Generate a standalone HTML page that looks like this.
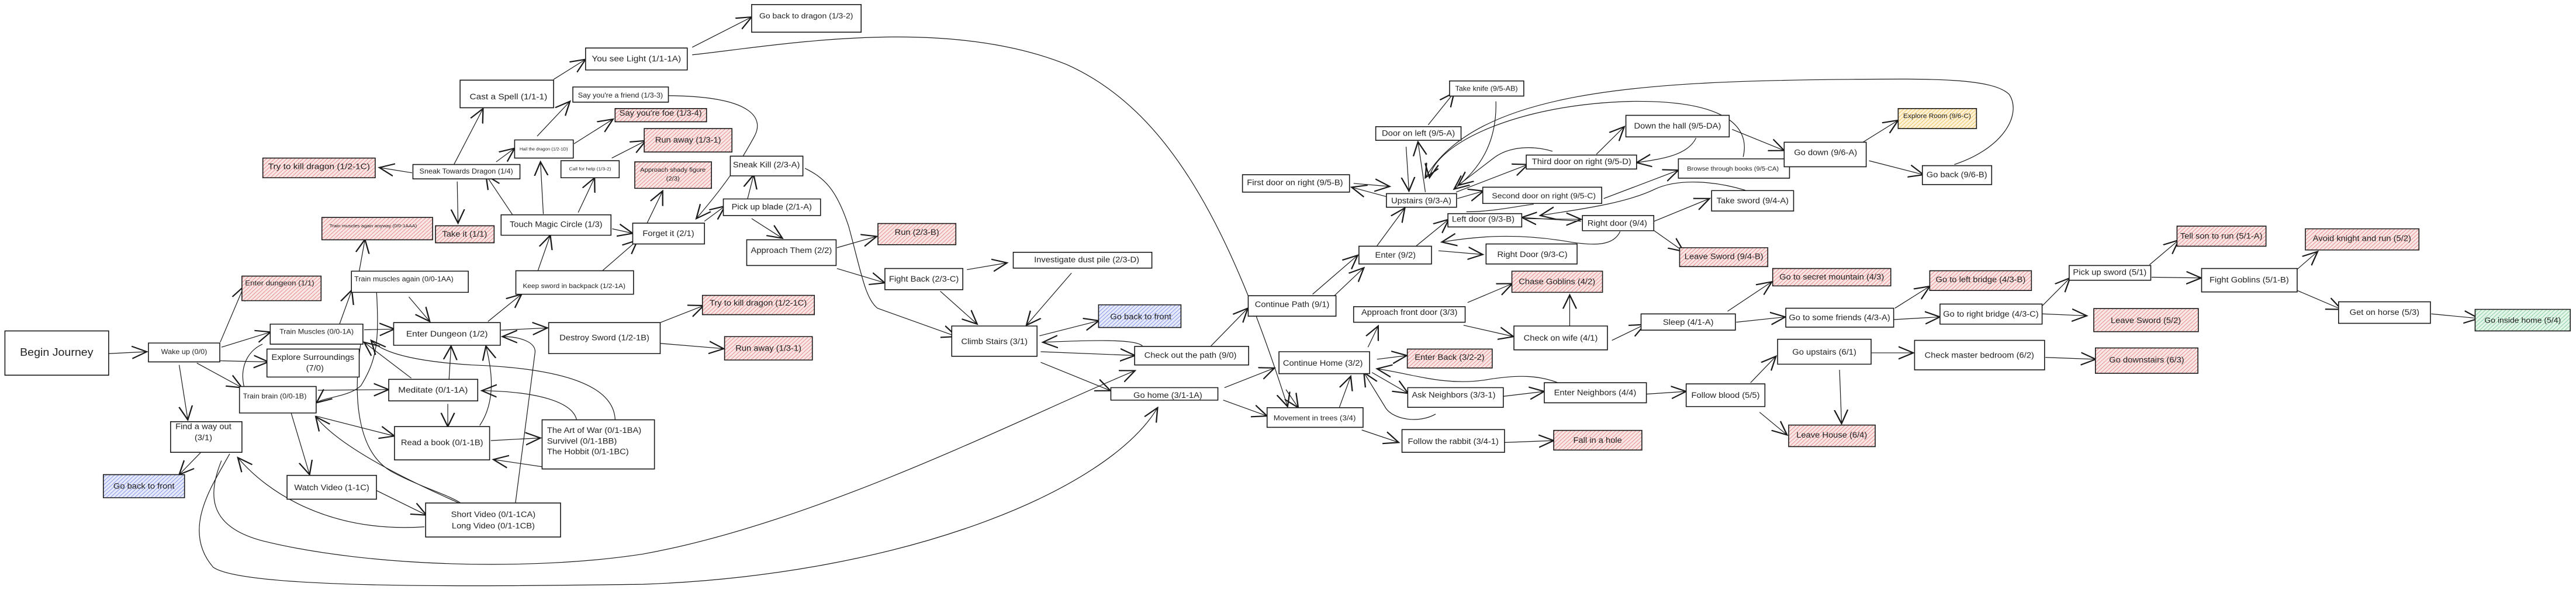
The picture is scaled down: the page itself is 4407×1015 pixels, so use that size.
<!DOCTYPE html>
<html><head><meta charset="utf-8"><style>
html,body{margin:0;padding:0;background:#fff;}
svg{display:block;}
.b{fill:#fff;stroke:#1a1a1a;stroke-width:1.6;vector-effect:non-scaling-stroke;}
.r{fill:url(#hr);stroke:#1a1a1a;stroke-width:1.6;vector-effect:non-scaling-stroke;}
.u{fill:url(#hb);stroke:#1a1a1a;stroke-width:1.6;vector-effect:non-scaling-stroke;}
.g{fill:url(#hg);stroke:#1a1a1a;stroke-width:1.6;vector-effect:non-scaling-stroke;}
.o{fill:url(#ho);stroke:#1a1a1a;stroke-width:1.6;vector-effect:non-scaling-stroke;}
path.e{fill:none;stroke:#1a1a1a;stroke-width:1.2;vector-effect:non-scaling-stroke;marker-end:url(#a);}
path.n{fill:none;stroke:#1a1a1a;stroke-width:1.2;vector-effect:non-scaling-stroke;}
text{font-family:"Liberation Sans",sans-serif;fill:#222;font-size:21px;text-anchor:middle;dominant-baseline:central;}
</style></head><body>
<svg width="4407" height="1015" viewBox="0 0 6282 1568" preserveAspectRatio="none" xmlns="http://www.w3.org/2000/svg">
<defs>
<pattern id="hr" width="7" height="7" patternUnits="userSpaceOnUse" patternTransform="rotate(45)"><rect width="7" height="7" fill="#fbe6e6"/><line x1="0" y1="0" x2="0" y2="7" stroke="#e06666" stroke-width="2"/></pattern>
<pattern id="hb" width="7" height="7" patternUnits="userSpaceOnUse" patternTransform="rotate(45)"><rect width="7" height="7" fill="#e7eafc"/><line x1="0" y1="0" x2="0" y2="7" stroke="#5a70e0" stroke-width="2"/></pattern>
<pattern id="hg" width="7" height="7" patternUnits="userSpaceOnUse" patternTransform="rotate(45)"><rect width="7" height="7" fill="#e4f6ea"/><line x1="0" y1="0" x2="0" y2="7" stroke="#5cbf7c" stroke-width="2"/></pattern>
<pattern id="ho" width="7" height="7" patternUnits="userSpaceOnUse" patternTransform="rotate(45)"><rect width="7" height="7" fill="#fdf1d6"/><line x1="0" y1="0" x2="0" y2="7" stroke="#f0b030" stroke-width="2"/></pattern>
<marker id="a" markerUnits="userSpaceOnUse" markerWidth="40" markerHeight="40" refX="20" refY="10" viewBox="0 0 22 20" orient="auto"><path d="M0,1 L20,10 L0,19" fill="none" stroke="#1a1a1a" stroke-width="1.8"/></marker>
</defs>

<!-- edges -->
<path class="e" d="M265,935 L358,930"/>
<path class="e" d="M537,905 L595,757"/>
<path class="e" d="M540,918 L660,878"/>
<path class="e" d="M536,954 L655,957"/>
<path class="e" d="M480,960 L590,1025"/>
<path class="e" d="M437,965 L458,1110"/>
<path class="e" d="M490,1196 L437,1255"/>
<path class="e" d="M828,857 L858,767"/>
<path class="e" d="M876,717 L890,633"/>
<path class="e" d="M888,872 L962,870"/>
<path class="e" d="M997,785 L1048,850"/>
<path class="e" d="M775,1032 L948,1030"/>
<path class="e" d="M770,1100 L962,1153"/>
<path class="e" d="M710,1092 L755,1255"/>
<path class="e" d="M918,1297 L1040,1362"/>
<path class="e" d="M1095,1003 L1100,915"/>
<path class="e" d="M1092,1068 L1092,1128"/>
<path class="e" d="M1003,1000 L888,905"/>
<path class="e" d="M1197,1165 L1318,1158"/>
<path class="e" d="M1407,1118 C1405,1060 1300,1035 1175,1033"/>
<path class="e" d="M1340,1237 L1203,1215"/>
<path class="e" d="M1170,1125 C1210,1060 1200,980 1185,915"/>
<path class="e" d="M1500,1120 C1505,1030 1400,975 1150,965 C1000,955 930,930 905,900"/>
<path class="e" d="M1257,1330 L1305,930 C1305,905 1270,890 1225,890"/>
<path class="e" d="M1130,1335 C950,1250 820,1170 770,1102"/>
<path class="e" d="M918,765 C925,900 920,950 880,1020 C850,1050 790,1050 772,1065"/>
<path class="n" d="M880,905 C860,1050 870,1200 960,1250 C1030,1290 1100,1310 1130,1335"/>
<path class="e" d="M1035,1393 C800,1410 650,1300 580,1210"/>
<path class="n" d="M640,910 C600,930 580,980 600,1040"/>
<path class="e" d="M540,1218 C510,1300 500,1390 640,1430 C900,1500 1300,1510 1568,1465 C2000,1380 2500,1100 2768,980"/>
<path class="e" d="M560,1200 C520,1280 440,1400 520,1500 C600,1560 1200,1550 1568,1545 C2200,1520 2700,1300 2823,1078"/>
<path class="e" d="M1005,457 L925,443"/>
<path class="e" d="M1107,435 L1178,287"/>
<path class="e" d="M1115,480 L1117,590"/>
<path class="e" d="M1210,428 L1255,392"/>
<path class="e" d="M1250,568 L1185,463"/>
<path class="e" d="M1325,566 L1318,428"/>
<path class="e" d="M1410,562 L1450,470"/>
<path class="e" d="M1493,605 L1543,617"/>
<path class="e" d="M1312,715 L1342,622"/>
<path class="e" d="M1470,715 L1555,635"/>
<path class="e" d="M1190,850 L1272,778"/>
<path class="e" d="M1222,873 L1335,867"/>
<path class="e" d="M1350,210 L1428,157"/>
<path class="e" d="M1310,360 L1390,268"/>
<path class="e" d="M1400,380 L1495,315"/>
<path class="e" d="M1492,418 L1575,372"/>
<path class="e" d="M1578,590 L1616,505"/>
<path class="e" d="M1630,253 C1850,255 1860,320 1840,360 C1800,440 1760,500 1698,578"/>
<path class="e" d="M1718,585 L1768,545"/>
<path class="e" d="M1823,526 L1838,462"/>
<path class="e" d="M1833,578 L1908,630"/>
<path class="e" d="M1963,445 C2010,470 2040,500 2070,600 C2100,720 2110,790 2140,815 L2333,890"/>
<path class="e" d="M2041,655 L2138,625"/>
<path class="e" d="M2041,710 L2158,748"/>
<path class="e" d="M2358,713 L2456,695"/>
<path class="e" d="M2293,770 L2383,857"/>
<path class="e" d="M2613,722 L2503,860"/>
<path class="e" d="M1610,853 L1716,808"/>
<path class="e" d="M1610,908 L1765,922"/>
<path class="e" d="M2535,888 L2680,848"/>
<path class="e" d="M2786,915 C2770,895 2650,900 2543,905"/>
<path class="e" d="M2538,930 L2768,940"/>
<path class="e" d="M2538,958 L2708,1033"/>
<path class="e" d="M1688,125 L1833,45"/>
<path class="e" d="M1688,145 C1900,120 2300,40 2600,170 C2850,290 3000,600 3140,1075"/>
<path class="e" d="M2953,915 L3043,815"/>
<path class="e" d="M2986,1025 L3108,973"/>
<path class="e" d="M2983,1058 L3090,1100"/>
<path class="e" d="M3201,778 L3311,675"/>
<path class="e" d="M3251,785 L3326,708"/>
<path class="e" d="M3336,918 L3361,862"/>
<path class="e" d="M3358,950 L3431,940"/>
<path class="e" d="M3346,985 L3434,1040"/>
<path class="e" d="M3266,1078 L3294,995"/>
<path class="e" d="M3136,1030 L3166,1078"/>
<path class="e" d="M3501,1095 C3460,1120 3400,1110 3380,1080 L3326,985"/>
<path class="e" d="M3816,1020 C3760,990 3700,990 3620,1005 C3520,1020 3450,990 3358,975"/>
<path class="e" d="M3666,1048 L3766,1035"/>
<path class="e" d="M3321,1137 L3411,1170"/>
<path class="e" d="M3669,1170 L3789,1165"/>
<path class="e" d="M3579,800 L3688,750"/>
<path class="e" d="M3569,860 L3691,890"/>
<path class="e" d="M3828,862 L3828,780"/>
<path class="e" d="M3931,900 L4011,858"/>
<path class="e" d="M4213,823 L4321,745"/>
<path class="e" d="M4234,852 L4354,838"/>
<path class="e" d="M4016,1042 L4112,1035"/>
<path class="e" d="M4269,1012 L4331,942"/>
<path class="e" d="M4291,1090 L4358,1150"/>
<path class="e" d="M4486,978 L4491,1120"/>
<path class="e" d="M4564,933 L4666,933"/>
<path class="e" d="M4621,815 L4706,757"/>
<path class="e" d="M4618,845 L4731,838"/>
<path class="e" d="M3358,650 L3426,550"/>
<path class="e" d="M3454,650 L3533,580"/>
<path class="e" d="M3508,663 L3616,673"/>
<path class="e" d="M3951,612 C3935,650 3890,650 3830,640 C3700,615 3600,625 3516,640"/>
<path class="e" d="M3476,508 L3458,375"/>
<path class="e" d="M3429,388 L3436,505"/>
<path class="e" d="M3483,330 L3546,245"/>
<path class="e" d="M3648,268 C3651,380 3606,450 3546,500"/>
<path class="e" d="M3301,485 L3389,493"/>
<path class="e" d="M3381,520 L3296,495"/>
<path class="e" d="M3551,508 L3726,435"/>
<path class="e" d="M3893,408 L3961,335"/>
<path class="e" d="M4136,365 C4116,410 4056,420 3991,430"/>
<path class="e" d="M3554,525 L3618,505"/>
<path class="e" d="M3911,525 L4093,450"/>
<path class="e" d="M4224,342 L4351,398"/>
<path class="e" d="M4543,376 L4629,318"/>
<path class="e" d="M4558,425 L4691,462"/>
<path class="e" d="M4766,435 C4890,390 4930,300 4900,250 C4860,205 4700,208 4500,210 C4000,215 3600,240 3476,470"/>
<path class="e" d="M4251,415 C4270,330 4200,265 3980,268 C3700,275 3500,380 3486,470"/>
<path class="e" d="M3786,400 C3740,385 3680,385 3640,420 L3556,490"/>
<path class="e" d="M3856,585 L3711,575"/>
<path class="e" d="M3716,578 L3856,580"/>
<path class="e" d="M4034,585 L4169,525"/>
<path class="e" d="M4034,610 L4106,665"/>
<path class="e" d="M4256,503 C4186,480 4096,470 4036,500 C3960,540 3840,555 3756,570"/>
<path class="n" d="M3576,560 C3640,560 3700,545 3740,540"/>
<path class="e" d="M4981,808 L5048,735"/>
<path class="e" d="M4981,830 L5089,835"/>
<path class="e" d="M4988,945 L5111,950"/>
<path class="e" d="M5242,700 L5313,635"/>
<path class="e" d="M5247,733 L5368,735"/>
<path class="e" d="M5599,715 L5652,665"/>
<path class="e" d="M5602,768 L5710,818"/>
<path class="e" d="M5929,830 L6045,842"/>

<!-- nodes -->
<rect class="b" x="12" y="875" width="253" height="117"/><text x="138" y="933" style="font-size:28px">Begin Journey</text>
<rect class="b" x="362" y="907" width="174" height="50"/><text x="449" y="930" style="font-size:18px">Wake up (0/0)</text>
<rect class="r" x="590" y="730" width="193" height="65"/><text x="682" y="748" style="font-size:19px">Enter dungeon (1/1)</text>
<rect class="b" x="659" y="857" width="226" height="53"/><text x="772" y="877" style="font-size:18px">Train Muscles (0/0-1A)</text>
<rect class="b" x="651" y="923" width="225" height="74"/><text x="763" y="946">Explore Surroundings</text><text x="768" y="974">(7/0)</text>
<rect class="b" x="584" y="1022" width="187" height="70"/><text x="670" y="1048" style="font-size:18px">Train brain (0/0-1B)</text>
<rect class="b" x="416" y="1115" width="174" height="81"/><text x="496" y="1129">Find a way out</text><text x="496" y="1158">(3/1)</text>
<rect class="u" x="252" y="1255" width="198" height="61"/><text x="351" y="1286">Go back to front</text>
<rect class="r" x="785" y="575" width="270" height="59"/><text x="910" y="597" style="font-size:12px">Train muscles again anyway (0/0-1AAA)</text>
<rect class="r" x="1062" y="597" width="143" height="45"/><text x="1133" y="620">Take it (1/1)</text>
<rect class="b" x="857" y="717" width="285" height="56"/><text x="985" y="738" style="font-size:18px">Train muscles again (0/0-1AA)</text>
<rect class="b" x="960" y="853" width="260" height="60"/><text x="1090" y="884" style="font-size:22px">Enter Dungeon (1/2)</text>
<rect class="b" x="948" y="1003" width="217" height="57"/><text x="1056" y="1032" style="font-size:22px">Meditate (0/1-1A)</text>
<rect class="b" x="962" y="1128" width="232" height="88"/><text x="1078" y="1171">Read a book (0/1-1B)</text>
<rect class="b" x="700" y="1257" width="218" height="63"/><text x="809" y="1290">Watch Video (1-1C)</text>
<rect class="b" x="1038" y="1330" width="329" height="90"/><text x="1203" y="1361">Short Video (0/1-1CA)</text><text x="1203" y="1391">Long Video (0/1-1CB)</text>
<rect class="b" x="1322" y="1110" width="274" height="130"/><text x="1334" y="1139" style="text-anchor:start">The Art of War (0/1-1BA)</text><text x="1334" y="1167" style="text-anchor:start">Survivel (0/1-1BB)</text><text x="1334" y="1195" style="text-anchor:start">The Hobbit (0/1-1BC)</text>
<rect class="b" x="1338" y="853" width="272" height="82"/><text x="1474" y="894">Destroy Sword (1/2-1B)</text>
<rect class="b" x="1258" y="716" width="287" height="62"/><text x="1400" y="757" style="font-size:17px">Keep sword in backpack (1/2-1A)</text>
<rect class="b" x="1222" y="568" width="268" height="54"/><text x="1356" y="594">Touch Magic Circle (1/3)</text>
<rect class="b" x="1543" y="590" width="175" height="55"/><text x="1630" y="618">Forget it (2/1)</text>
<rect class="b" x="1007" y="435" width="261" height="38"/><text x="1137" y="453" style="font-size:18px">Sneak Towards Dragon (1/4)</text>
<rect class="r" x="641" y="418" width="274" height="52"/><text x="778" y="441" style="font-size:22px">Try to kill dragon (1/2-1C)</text>
<rect class="b" x="1122" y="212" width="228" height="73"/><text x="1240" y="257" style="font-size:22px">Cast a Spell (1/1-1)</text>
<rect class="b" x="1428" y="127" width="248" height="58"/><text x="1552" y="156" style="font-size:22px">You see Light (1/1-1A)</text>
<rect class="b" x="1255" y="370" width="143" height="48"/><text x="1326" y="394" style="font-size:11px">Hail the dragon (1/2-1D)</text>
<rect class="b" x="1368" y="425" width="142" height="45"/><text x="1439" y="447" style="font-size:12px">Call for help (1/3-2)</text>
<rect class="b" x="1397" y="230" width="233" height="40"/><text x="1513" y="252" style="font-size:18px">Say you're a friend (1/3-3)</text>
<rect class="r" x="1500" y="287" width="223" height="35"/><text x="1611" y="300">Say you're foe (1/3-4)</text>
<rect class="r" x="1571" y="340" width="214" height="62"/><text x="1678" y="371">Run away (1/3-1)</text>
<rect class="r" x="1548" y="428" width="187" height="70"/><text x="1641" y="450" style="font-size:16px">Approach shady figure</text><text x="1641" y="473" style="font-size:16px">(2/3)</text>
<rect class="b" x="1833" y="12" width="267" height="73"/><text x="1966" y="42" style="font-size:20px">Go back to dragon (1/3-2)</text>
<rect class="b" x="1781" y="413" width="177" height="52"/><text x="1869" y="437">Sneak Kill (2/3-A)</text>
<rect class="b" x="1764" y="526" width="237" height="44"/><text x="1882" y="548">Pick up blade (2/1-A)</text>
<rect class="b" x="1821" y="634" width="218" height="68"/><text x="1930" y="663">Approach Them (2/2)</text>
<rect class="r" x="2141" y="591" width="190" height="56"/><text x="2236" y="615">Run (2/3-B)</text>
<rect class="b" x="2471" y="667" width="338" height="42"/><text x="2650" y="688">Investigate dust pile (2/3-D)</text>
<rect class="b" x="2158" y="710" width="190" height="56"/><text x="2253" y="739">Fight Back (2/3-C)</text>
<rect class="r" x="1713" y="781" width="273" height="51"/><text x="1849" y="802">Try to kill dragon (1/2-1C)</text>
<rect class="r" x="1767" y="890" width="214" height="62"/><text x="1874" y="922">Run away (1/3-1)</text>
<rect class="b" x="2321" y="862" width="208" height="80"/><text x="2425" y="904">Climb Stairs (3/1)</text>
<rect class="u" x="2679" y="806" width="201" height="60"/><text x="2782" y="838">Go back to front</text>
<rect class="b" x="2767" y="916" width="278" height="49"/><text x="2903" y="940">Check out the path (9/0)</text>
<rect class="b" x="2709" y="1025" width="261" height="33"/><text x="2848" y="1046">Go home (3/1-1A)</text>
<rect class="b" x="3030" y="462" width="261" height="46"/><text x="3158" y="484">First door on right (9/5-B)</text>
<rect class="b" x="3044" y="782" width="214" height="54"/><text x="3151" y="806">Continue Path (9/1)</text>
<rect class="b" x="3119" y="930" width="221" height="58"/><text x="3226" y="961">Continue Home (3/2)</text>
<rect class="b" x="3090" y="1078" width="234" height="52"/><text x="3206" y="1105" style="font-size:19px">Movement in trees (3/4)</text>
<rect class="b" x="3535" y="214" width="181" height="40"/><text x="3625" y="234" style="font-size:18px">Take knife (9/5-AB)</text>
<rect class="b" x="3355" y="335" width="208" height="36"/><text x="3459" y="353">Door on left (9/5-A)</text>
<rect class="b" x="3381" y="512" width="171" height="36"/><text x="3466" y="532">Upstairs (9/3-A)</text>
<rect class="b" x="3722" y="410" width="269" height="37"/><text x="3857" y="428">Third door on right (9/5-D)</text>
<rect class="b" x="3965" y="305" width="252" height="57"/><text x="4091" y="334">Down the hall (9/5-DA)</text>
<rect class="b" x="4093" y="420" width="271" height="51"/><text x="4226" y="447" style="font-size:16px">Browse through books (9/5-CA)</text>
<rect class="b" x="4351" y="376" width="200" height="65"/><text x="4452" y="404">Go down (9/6-A)</text>
<rect class="b" x="3616" y="495" width="290" height="43"/><text x="3765" y="518" style="font-size:20px">Second door on right (9/5-C)</text>
<rect class="b" x="3531" y="565" width="180" height="35"/><text x="3617" y="580">Left door (9/3-B)</text>
<rect class="b" x="3859" y="570" width="174" height="40"/><text x="3944" y="591">Right door (9/4)</text>
<rect class="b" x="4174" y="504" width="200" height="54"/><text x="4274" y="532">Take sword (9/4-A)</text>
<rect class="b" x="3314" y="651" width="177" height="47"/><text x="3403" y="675">Enter (9/2)</text>
<rect class="b" x="3624" y="645" width="222" height="53"/><text x="3737" y="674">Right Door (9/3-C)</text>
<rect class="r" x="4096" y="655" width="215" height="50"/><text x="4204" y="679">Leave Sword (9/4-B)</text>
<rect class="r" x="3687" y="717" width="221" height="56"/><text x="3797" y="746">Chase Goblins (4/2)</text>
<rect class="b" x="3301" y="811" width="272" height="41"/><text x="3437" y="827">Approach front door (3/3)</text>
<rect class="b" x="3692" y="862" width="228" height="63"/><text x="3806" y="895">Check on wife (4/1)</text>
<rect class="b" x="4002" y="830" width="230" height="43"/><text x="4117" y="853">Sleep (4/1-A)</text>
<rect class="r" x="4323" y="710" width="288" height="46"/><text x="4467" y="733">Go to secret mountain (4/3)</text>
<rect class="b" x="4355" y="815" width="263" height="50"/><text x="4486" y="841">Go to some friends (4/3-A)</text>
<rect class="r" x="3432" y="923" width="207" height="50"/><text x="3535" y="946">Enter Back (3/2-2)</text>
<rect class="b" x="3433" y="1025" width="233" height="52"/><text x="3545" y="1045">Ask Neighbors (3/3-1)</text>
<rect class="b" x="3766" y="1012" width="249" height="53"/><text x="3890" y="1039">Enter Neighbors (4/4)</text>
<rect class="b" x="4112" y="1015" width="192" height="60"/><text x="4208" y="1046">Follow blood (5/5)</text>
<rect class="b" x="4335" y="897" width="228" height="66"/><text x="4449" y="932">Go upstairs (6/1)</text>
<rect class="r" x="4362" y="1124" width="211" height="57"/><text x="4467" y="1151">Leave House (6/4)</text>
<rect class="b" x="3419" y="1136" width="250" height="60"/><text x="3544" y="1168">Follow the rabbit (3/4-1)</text>
<rect class="r" x="3789" y="1138" width="215" height="52"/><text x="3896" y="1165">Fall in a hole</text>
<rect class="o" x="4629" y="287" width="191" height="53"/><text x="4724" y="308" style="font-size:17px">Explore Room (9/6-C)</text>
<rect class="b" x="4688" y="438" width="169" height="50"/><text x="4772" y="463">Go back (9/6-B)</text>
<rect class="b" x="4669" y="900" width="317" height="78"/><text x="4827" y="940">Check master bedroom (6/2)</text>
<rect class="r" x="4706" y="716" width="248" height="52"/><text x="4830" y="740">Go to left bridge (4/3-B)</text>
<rect class="b" x="4731" y="804" width="249" height="53"/><text x="4855" y="831">Go to right bridge (4/3-C)</text>
<rect class="b" x="5046" y="702" width="199" height="39"/><text x="5145" y="721">Pick up sword (5/1)</text>
<rect class="r" x="5309" y="598" width="217" height="53"/><text x="5417" y="625">Tell son to run (5/1-A)</text>
<rect class="r" x="5106" y="816" width="255" height="61"/><text x="5233" y="848">Leave Sword (5/2)</text>
<rect class="r" x="5110" y="920" width="250" height="67"/><text x="5235" y="953">Go downstairs (6/3)</text>
<rect class="b" x="5369" y="710" width="233" height="62"/><text x="5485" y="741">Fight Goblins (5/1-B)</text>
<rect class="r" x="5622" y="605" width="277" height="56"/><text x="5760" y="631">Avoid knight and run (5/2)</text>
<rect class="b" x="5703" y="798" width="224" height="57"/><text x="5815" y="827">Get on horse (5/3)</text>
<rect class="g" x="6036" y="818" width="232" height="57"/><text x="6152" y="847" style="font-size:20px">Go inside home (5/4)</text>
</svg>
</body></html>
